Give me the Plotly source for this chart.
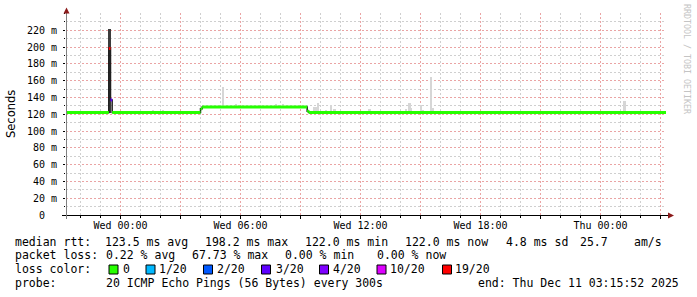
import pandas as pd
import plotly.graph_objects as go

# ---------------- data ----------------
# median RTT as steps: each value holds from its start time until the next start
median_start = ["2025-12-09 21:15:00", "2025-12-09 23:25:00", "2025-12-09 23:30:00",
                "2025-12-09 23:35:00", "2025-12-10 04:00:00", "2025-12-10 04:05:00",
                "2025-12-10 09:20:00", "2025-12-10 09:25:00"]
median_ms = [122.0, 198.2, 137.0, 122.0, 126.5, 128.5, 123.5, 122.0]
median_loss = [0, 19, 3, 0, 0, 0, 0, 0]          # lost pings out of 20
median_end = "2025-12-11 03:20:00"

# smoke (spread of the pings) where it shows above the median line
smoke_time = ["2025-12-09 23:25", "2025-12-10 01:35", "2025-12-10 02:05", "2025-12-10 05:05",
              "2025-12-10 05:45", "2025-12-10 07:45", "2025-12-10 08:05", "2025-12-10 09:40",
              "2025-12-10 09:45", "2025-12-10 09:50", "2025-12-10 10:15", "2025-12-10 10:30",
              "2025-12-10 10:40", "2025-12-10 12:25", "2025-12-10 14:15", "2025-12-10 14:25",
              "2025-12-10 14:30", "2025-12-10 15:00", "2025-12-10 15:05", "2025-12-10 15:30",
              "2025-12-10 15:35", "2025-12-11 01:10"]
smoke_low_ms = [122.0, 122.0, 122.0, 128.5, 128.5, 128.5, 128.5, 122.0,
                122.0, 122.0, 122.0, 122.0, 122.0, 122.0, 122.0, 122.0,
                122.0, 122.0, 122.0, 122.0, 122.0, 122.0]
smoke_top_ms = [222.0, 125.0, 125.0, 152.0, 132.0, 132.0, 132.0, 129.0,
                129.0, 133.0, 124.5, 131.0, 126.0, 126.5, 126.5, 133.0,
                127.5, 131.0, 125.0, 164.0, 127.5, 136.0]

loss_levels = [0, 1, 2, 3, 4, 10, 19]
loss_labels = ["0", "1/20", "2/20", "3/20", "4/20", "10/20", "19/20"]
loss_colors = ["#26ff00", "#00b8ff", "#0059ff", "#5e00ff", "#7e00ff", "#dd00ff", "#ff0000"]

x_tick_times = ["2025-12-10 00:00", "2025-12-10 03:00", "2025-12-10 06:00", "2025-12-10 09:00",
                "2025-12-10 12:00", "2025-12-10 15:00", "2025-12-10 18:00", "2025-12-10 21:00",
                "2025-12-11 00:00", "2025-12-11 03:00"]
x_tick_text = ["Wed 00:00", "", "Wed 06:00", "", "Wed 12:00", "", "Wed 18:00", "", "Thu 00:00", ""]
y_tick_vals = [0, 20, 40, 60, 80, 100, 120, 140, 160, 180, 200, 220]
y_tick_text = ["0\u00a0\u00a0"] + ["%d m" % v for v in y_tick_vals[1:]]

rtt_stats = ["123.5 ms avg", "198.2 ms max", "122.0 ms min", "122.0 ms now", "4.8 ms sd", "25.7", "am/s"]
loss_stats = ["0.22 % avg", "67.73 % max", "0.00 % min", "0.00 % now"]
probe_text = "20 ICMP Echo Pings (56 Bytes) every 300s"
end_text = "end: Thu Dec 11 03:15:52 2025"
x_range = ["2025-12-09 21:16:30", "2025-12-11 03:16:30"]

# ---------------- geometry helpers (pixels -> paper) ----------------
W, H = 697, 297
L, R, T, B = 66, 666, 13, 215
def px(x):
    return (x - L) / (R - L)
def py(y):
    return (B - y) / (B - T)

MONO = "DejaVu Sans Mono"
t_start = list(pd.to_datetime(median_start))
t_end = t_start[1:] + [pd.Timestamp(median_end)]

def loss_color(n):
    c = loss_colors[0]
    for lv, col in zip(loss_levels, loss_colors):
        if n >= lv:
            c = col
    return c

def step_at(t, values):
    t = pd.Timestamp(t)
    v = values[0]
    for s, m in zip(t_start, values):
        if s <= t:
            v = m
    return v

fig = go.Figure()

# smoke
smoke_len = [top - lo for top, lo in zip(smoke_top_ms, smoke_low_ms)]
smoke_col = ["#3c3c3c" if step_at(t, median_loss) >= 10 else "#d6d6d6" for t in smoke_time]
fig.add_bar(x=pd.to_datetime(smoke_time), y=smoke_len, base=smoke_low_ms, width=300000, offset=0,
            marker=dict(color=smoke_col, line_width=0), hoverinfo="skip")

# thin dark median line (shows the steps)
fig.add_scatter(x=t_start + [t_end[-1]], y=median_ms + [median_ms[-1]], mode="lines",
                line=dict(color="#202020", width=1.5, shape="hv"), hoverinfo="skip")

# thick loss-coloured median segments
groups = {}
for s, e, v, n in zip(t_start, t_end, median_ms, median_loss):
    c = loss_color(n)
    gx, gy = groups.setdefault(c, ([], []))
    gx += [s, e, None]
    gy += [v, v, None]
for c, (gx, gy) in groups.items():
    fig.add_scatter(x=gx, y=gy, mode="lines", line=dict(color=c, width=3), hoverinfo="skip")

grid_minor = "#cfcfcf"
grid_major = "#eaa4a4"
fig.update_xaxes(type="date", range=x_range, tickmode="array", tickvals=x_tick_times,
                 ticktext=x_tick_text, ticks="outside", ticklen=3, tickcolor="#000",
                 ticklabelstandoff=-2,
                 showgrid=True, gridcolor=grid_major, griddash="2px,2px", gridwidth=1,
                 minor=dict(dtick=3600000, tick0="2025-12-10 00:00", showgrid=True,
                            gridcolor=grid_minor, griddash="2px,2px", gridwidth=1,
                            ticks="outside", ticklen=2, tickcolor="#000"),
                 showline=False, zeroline=False,
                 tickfont=dict(family=MONO, size=10, color="#000"))
fig.update_yaxes(range=[0, 240.5], tickmode="array", tickvals=y_tick_vals, ticktext=y_tick_text,
                 ticks="outside", ticklen=2, tickcolor="#000", ticklabelstandoff=4,
                 showgrid=True, gridcolor=grid_major, griddash="2px,2px", gridwidth=1,
                 minor=dict(dtick=10, tick0=0, showgrid=True, gridcolor=grid_minor,
                            griddash="2px,2px", gridwidth=1, ticks="outside", ticklen=1,
                            tickcolor="#000"),
                 showline=False, zeroline=False,
                 tickfont=dict(family=MONO, size=10, color="#000"))

shapes = []
# axis lines with arrows
shapes.append(dict(type="line", xref="paper", yref="paper", x0=px(62), x1=px(669),
                   y0=py(215.5), y1=py(215.5), line=dict(color="#000", width=1)))
shapes.append(dict(type="line", xref="paper", yref="paper", x0=px(66.5), x1=px(66.5),
                   y0=py(219), y1=py(10), line=dict(color="#808080", width=1)))
shapes.append(dict(type="path", xref="paper", yref="paper", fillcolor="#8b1a1a",
                   line=dict(width=0),
                   path="M %f,%f L %f,%f L %f,%f Z" % (px(668), py(212.5), px(668), py(218.5),
                                                       px(674), py(215.5))))
shapes.append(dict(type="path", xref="paper", yref="paper", fillcolor="#8b1a1a",
                   line=dict(width=0),
                   path="M %f,%f L %f,%f L %f,%f Z" % (px(63.5), py(13.5), px(69.5), py(13.5),
                                                       px(66.5), py(7.5))))

ann = []
def text(s, x, y, size=11.5, color="#000", family=MONO, angle=0, xanchor="left"):
    ann.append(dict(text=s.replace(" ", "\u00a0"), x=px(x), y=py(y), xref="paper", yref="paper",
                    xanchor=xanchor, yanchor="middle", showarrow=False, borderpad=0,
                    borderwidth=0, textangle=angle,
                    font=dict(family=family, size=size, color=color)))

row = [241.7, 255.0, 269.3, 283.3]
text("median rtt:", 15.4, row[0])
for s, x in zip(rtt_stats, [105.3, 205.3, 305.3, 405.3, 505.5, 580.0, 634.0]):
    text(s, x, row[0])
text("packet loss:", 15.4, row[1])
for s, x in zip(loss_stats, [106.2, 192.2, 285.0, 377.2]):
    text(s, x, row[1])
text("loss color:", 15.4, row[2])
for lab, col, bx, tx in zip(loss_labels, loss_colors,
                            [109, 146, 203.5, 261.5, 319.5, 377, 442.5],
                            [123.2, 159.0, 217.2, 275.6, 333.3, 389.7, 455.3]):
    shapes.append(dict(type="rect", xref="paper", yref="paper", x0=px(bx), x1=px(bx + 9),
                       y0=py(265), y1=py(274), fillcolor=col, line=dict(color="#000", width=1)))
    text(lab, tx, row[2])
text("probe:", 15.4, row[3])
text(probe_text, 106.2, row[3])
text(end_text, 478.0, row[3])

text("Seconds", 11, 114, size=11.5, family="DejaVu Sans", angle=-90, xanchor="center")
text("RRDTOOL / TOBI OETIKER", 687, 59, size=8.3, color="#c4c4c4", angle=90, xanchor="center")

fig.update_layout(width=W, height=H, margin=dict(l=L, r=W - R, t=T, b=H - B),
                  paper_bgcolor="#fff", plot_bgcolor="#fff", showlegend=False,
                  barmode="overlay", bargap=0, shapes=shapes, annotations=ann,
                  font=dict(family=MONO, color="#000"))
fig.write_html("out.html")
